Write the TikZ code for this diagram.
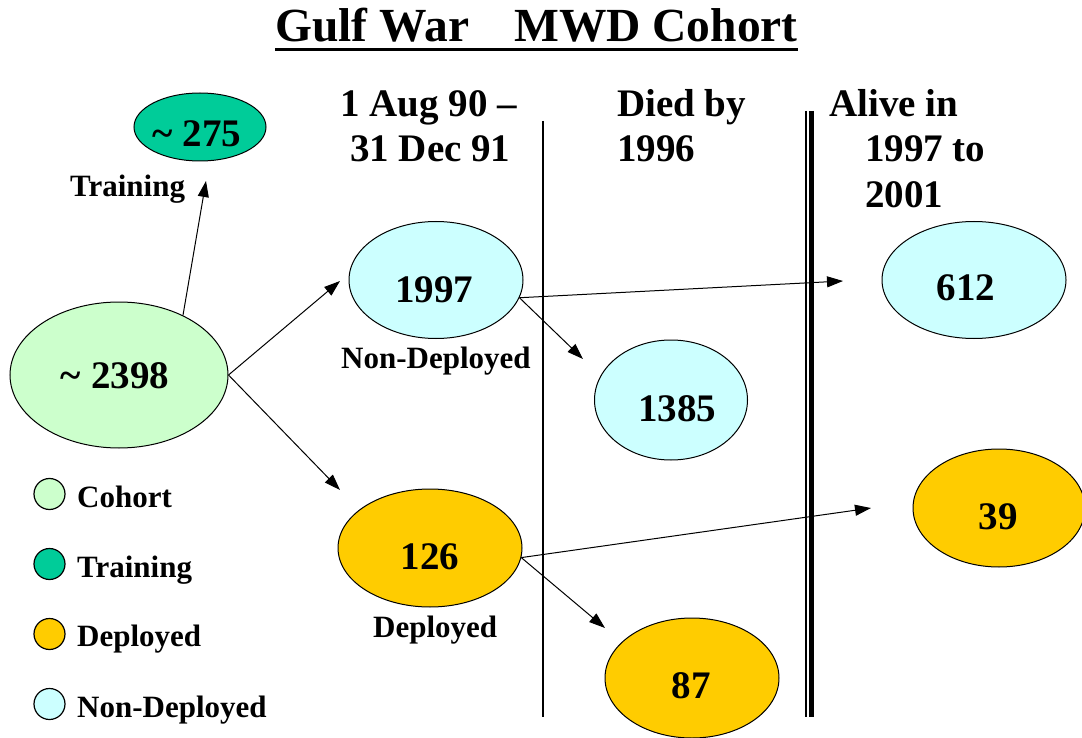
\documentclass[tikz,border=0pt]{standalone}
\usepackage{fontspec}
\setmainfont{Liberation Serif}
\usetikzlibrary{shapes.geometric,arrows.meta}
\definecolor{cohortc}{HTML}{CCFFCC}
\definecolor{trainc}{HTML}{00CC99}
\definecolor{deplc}{HTML}{FFCC00}
\definecolor{nondeplc}{HTML}{CCFFFF}
\tikzset{
  oval/.style={ellipse,draw=black,line width=1pt,inner sep=0pt},
  bignum/.style={anchor=base,inner sep=0pt,font=\fontsize{39}{46}\selectfont\bfseries},
  head/.style={anchor=base west,inner sep=0pt,font=\fontsize{39}{46}\selectfont\bfseries},
  lbl/.style={anchor=base west,inner sep=0pt,font=\fontsize{31}{37}\selectfont\bfseries},
  dot/.style={circle,draw=black,line width=1.2pt,minimum size=31pt,inner sep=0pt},
  arr/.style={line width=1pt,-{Triangle[length=16pt,width=11pt]}}
}
\begin{document}
\begin{tikzpicture}[x=1pt,y=-1pt]
\useasboundingbox (0,0) rectangle (1082,738);
% title
\node[anchor=base west,inner sep=0pt,font=\fontsize{47.5}{56}\selectfont\bfseries] (title) at (275,42) {Gulf War\hspace{45pt}MWD Cohort};
\draw[line width=3.5pt] ([yshift=-7.5pt]title.base west) -- ([yshift=-7.5pt]title.base east);
% column headers
\node[head] (h1a) at (340,117) {1 Aug 90 –};
\node[head] (h1b) at (350,162) {31 Dec 91};
\node[head] (h2a) at (617,117) {Died by};
\node[head] (h2b) at (617,162) {1996};
\node[head] (h3a) at (829,117) {Alive in};
\node[head] (h3b) at (865,162) {1997 to};
\node[head] (h3c) at (865,208) {2001};
% separators
\coordinate (s1t) at (543,121); \coordinate (s1b) at (543,717);
\draw[line width=1.2pt] (s1t) -- (s1b);
\coordinate (s2t) at (806,111); \coordinate (s2b) at (806,717);
\coordinate (s3t) at (811,111); \coordinate (s3b) at (811,717);
\draw[line width=1.5pt] (s2t) -- (s2b);
\draw[line width=5pt] (s3t) -- (s3b);
% ellipses
\node[oval,fill=trainc,minimum width=132pt,minimum height=68pt] (train) at (200,127) {};
\node[oval,fill=cohortc,minimum width=218pt,minimum height=146pt] (cohort) at (119,375) {};
\node[oval,fill=nondeplc,minimum width=174pt,minimum height=117pt] (n1997) at (436,280) {};
\node[oval,fill=nondeplc,minimum width=153pt,minimum height=120pt] (n1385) at (671,400) {};
\node[oval,fill=nondeplc,minimum width=184pt,minimum height=117pt] (n612) at (974,280) {};
\node[oval,fill=deplc,minimum width=184pt,minimum height=118pt] (n126) at (430,548) {};
\node[oval,fill=deplc,minimum width=174pt,minimum height=120pt] (n87) at (692,678) {};
\node[oval,fill=deplc,minimum width=172pt,minimum height=118pt] (n39) at (999,508) {};
% numbers
\node[bignum] (t275) at (197,147) {\textasciitilde\ 275};
\node[bignum] (t2398) at (115,388) {\textasciitilde\ 2398};
\node[bignum] (t1997) at (434,302) {1997};
\node[bignum] (t1385) at (677,421) {1385};
\node[bignum] (t612) at (966,300) {612};
\node[bignum] (t39) at (998,529) {39};
\node[bignum] (t126) at (430,569) {126};
\node[bignum] (t87) at (691,698) {87};
% labels
\node[lbl] (ltrain) at (70,197) {Training};
\node[lbl] (lnon) at (341,368) {Non-Deployed};
\node[lbl] (ldep) at (373,637) {Deployed};
% arrows
\coordinate (tipT) at (206,181);
\coordinate (tipA) at (340,281);
\coordinate (tipB) at (340,490);
\coordinate (tipC) at (843,281);
\coordinate (tipD) at (583,359);
\coordinate (tipE) at (871,508);
\coordinate (tipF) at (605,628);
\draw[arr] (cohort.43) -- (tipT);
\draw[arr] (cohort.east) -- (tipA);
\draw[arr] (cohort.east) -- (tipB);
\draw[arr] (n1997.-12) -- (tipC);
\draw[arr] (n1997.-12) -- (tipD);
\draw[arr] (n126.-6) -- (tipE);
\draw[arr] (n126.-6) -- (tipF);
% legend
\node[dot,fill=cohortc] (d1) at (49.5,494) {};
\node[dot,fill=trainc] (d2) at (49.5,564) {};
\node[dot,fill=deplc] (d3) at (49.5,634) {};
\node[dot,fill=nondeplc] (d4) at (49.5,704) {};
\node[lbl] (g1) at (77,507) {Cohort};
\node[lbl] (g2) at (77,577) {Training};
\node[lbl] (g3) at (77,646) {Deployed};
\node[lbl] (g4) at (77,717) {Non-Deployed};
\end{tikzpicture}
\end{document}
